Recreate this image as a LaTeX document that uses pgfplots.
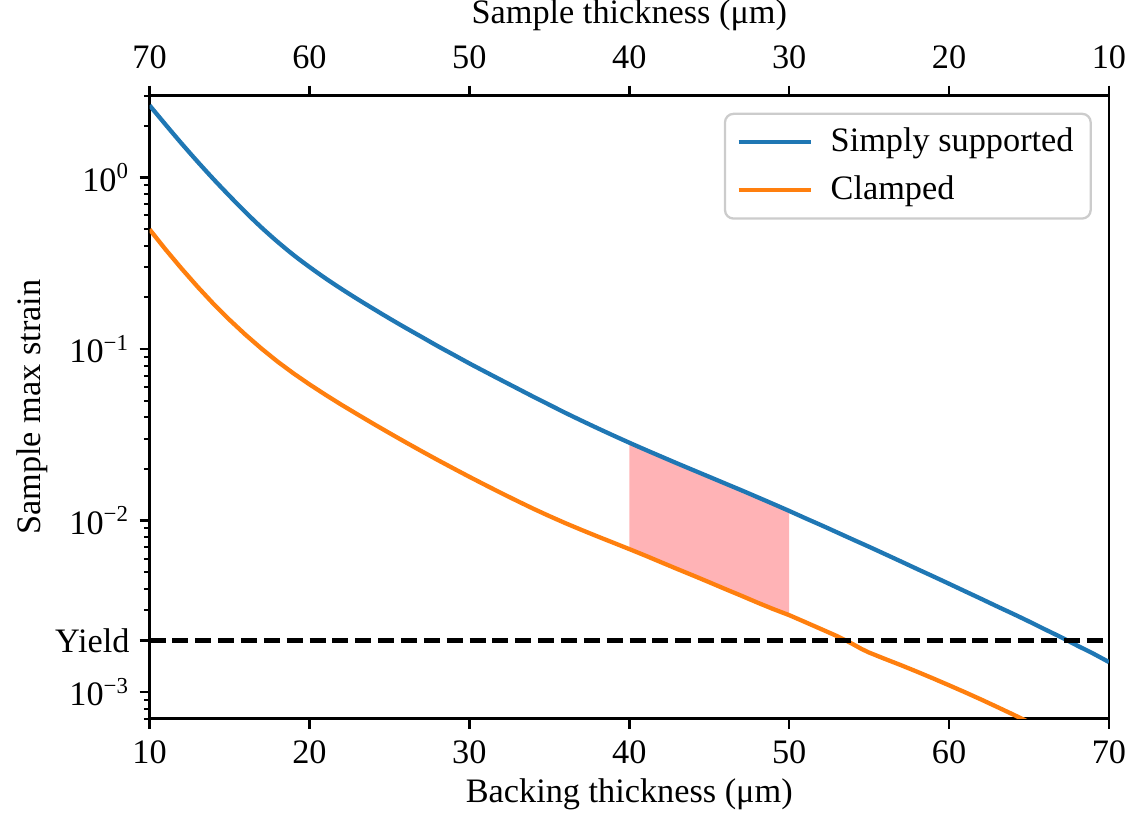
\documentclass[border=0pt]{standalone}
\usepackage{fontspec}
\setmainfont{Liberation Serif}
\usepackage{pgfplots}
\usepackage{pgfplotstable}
\pgfplotsset{compat=1.18}
\definecolor{mplblue}{HTML}{1F77B4}
\definecolor{mplorange}{HTML}{FF7F0E}
\definecolor{fillpink}{HTML}{FFB3B6}

\pgfplotstableread{
x y
10 2.630
11 2.032
12 1.578
13 1.236
14 0.977
15 0.780
16 0.627
17 0.5105
18 0.4217
19 0.3532
20 0.3006
21 0.2582
22 0.2239
23 0.1954
24 0.1714
25 0.1507
26 0.1330
27 0.1178
28 0.1042
29 0.0927
30 0.0824
31 0.0736
32 0.0658
33 0.0589
34 0.0527
35 0.0473
36 0.04246
37 0.03828
38 0.03459
39 0.03133
40 0.02844
41 0.02588
42 0.02360
43 0.02153
44 0.01968
45 0.01799
46 0.01644
47 0.01503
48 0.01371
49 0.01250
50 0.01138
51 0.01033
52 0.00940
53 0.00853
54 0.00774
55 0.00703
56 0.00637
57 0.00577
58 0.00522
59 0.00473
60 0.00428
61 0.00387
62 0.00350
63 0.00316
64 0.00286
65 0.00258
66 0.00232
67 0.00209
68 0.00187
69 0.00168
70 0.001496
}\simply

\pgfplotstableread{
x y
10 0.4977
11 0.3802
12 0.2944
13 0.2307
14 0.1832
15 0.1479
16 0.1211
17 0.1005
18 0.0845
19 0.0721
20 0.0622
21 0.0541
22 0.0473
23 0.0416
24 0.03664
25 0.03236
26 0.02864
27 0.02541
28 0.02259
29 0.02014
30 0.01799
31 0.01611
32 0.01445
33 0.01300
34 0.01172
35 0.01062
36 0.00966
37 0.00883
38 0.00809
39 0.00743
40 0.00682
41 0.00625
42 0.00571
43 0.00522
44 0.00478
45 0.00437
46 0.00399
47 0.00365
48 0.00333
49 0.00305
50 0.00281
51 0.00256
52 0.00233
53 0.00212
53.5 0.00201
54 0.00190
54.5 0.00179
55 0.00170
56 0.00156
57 0.001435
58 0.001315
59 0.001202
60 0.001096
61 0.000998
62 0.000906
63 0.000820
64 0.000741
65 0.000668
66 0.000601
}\clamped

\pgfplotstableread{
x y
40 0.02844
41 0.02588
42 0.02360
43 0.02153
44 0.01968
45 0.01799
46 0.01644
47 0.01503
48 0.01371
49 0.01250
50 0.01138
50 0.00281
49 0.00305
48 0.00333
47 0.00365
46 0.00399
45 0.00437
44 0.00478
43 0.00522
42 0.00571
41 0.00625
40 0.00682
}\band

\begin{document}
\begin{tikzpicture}[font=\fontsize{12}{14}\selectfont]
\begin{axis}[
  scale only axis, width=335.8pt, height=218.1pt,
  xmin=10, xmax=70, ymin=7e-4, ymax=3,
  ymode=log,
  xtick={10,20,...,70},
  xtick pos=bottom, ytick pos=left,
  ytick={1,0.1,0.01,0.001},
  yticklabels={10\textsuperscript{0},10\textsuperscript{−1},10\textsuperscript{−2},10\textsuperscript{−3}},
  minor ytick={0.0007,0.0008,0.0009,0.003,0.004,0.005,0.006,0.007,0.008,0.009,0.02,0.03,0.04,0.05,0.06,0.07,0.08,0.09,0.2,0.3,0.4,0.5,0.6,0.7,0.8,0.9,2,3},
  extra y ticks={0.002}, extra y tick labels={Yield},
  tick align=outside,
  major tick length=3.5pt, minor tick length=2pt,
  every tick/.style={black, line width=0.9pt},
  minor tick style={line width=0.7pt},
  axis line style={line width=1pt},
  xticklabel style={inner xsep=1pt, yshift=-0.5pt},
  xlabel={Backing thickness (μm)}, ylabel={Sample max strain},
  ylabel style={inner ysep=6pt, yshift=-10.6pt},
  xlabel style={inner ysep=1pt, yshift=-1pt},
  /pgf/number format/assume math mode=true,
  legend cell align=left,
  legend style={at={(1,1)}, anchor=north east, xshift=-6pt, yshift=-6pt,
    draw=black!20, line width=0.8pt, rounded corners=3pt,
    inner xsep=4pt, inner ysep=3pt, row sep=3pt,
    font=\fontsize{12}{14}\selectfont},
  legend image code/.code={\draw[#1, line width=1.5pt] (0pt,0pt) -- (25.5pt,0pt);},
]
\addplot[fill=fillpink, draw=none, forget plot] table {\band} -- cycle;
\addplot[mplblue, line width=1.5pt, smooth] table {\simply};
\addlegendentry{\hspace{4pt}Simply supported}
\addplot[mplorange, line width=1.5pt] table {\clamped};
\addlegendentry{\hspace{4pt}Clamped}
\addplot[black, line width=1.5pt, dash pattern=on 5.6pt off 2.4pt, forget plot] coordinates {(10,0.002) (70,0.002)};
\end{axis}
\begin{axis}[
  scale only axis, width=335.8pt, height=218.1pt,
  xmin=10, xmax=70, ymin=0, ymax=1,
  axis x line*=top, axis y line=none,
  xtick={10,20,...,70},
  xticklabels={70,60,50,40,30,20,10},
  tick align=outside, major tick length=3.5pt,
  every tick/.style={black, line width=0.9pt},
  axis line style={line width=1pt},
  xticklabel style={yshift=2.4pt, inner xsep=1pt},
  xlabel={Sample thickness (μm)},
  xlabel style={at={(axis description cs:0.5,1)}, anchor=center, yshift=28pt, inner sep=0pt},
]
\end{axis}
\end{tikzpicture}
\end{document}
